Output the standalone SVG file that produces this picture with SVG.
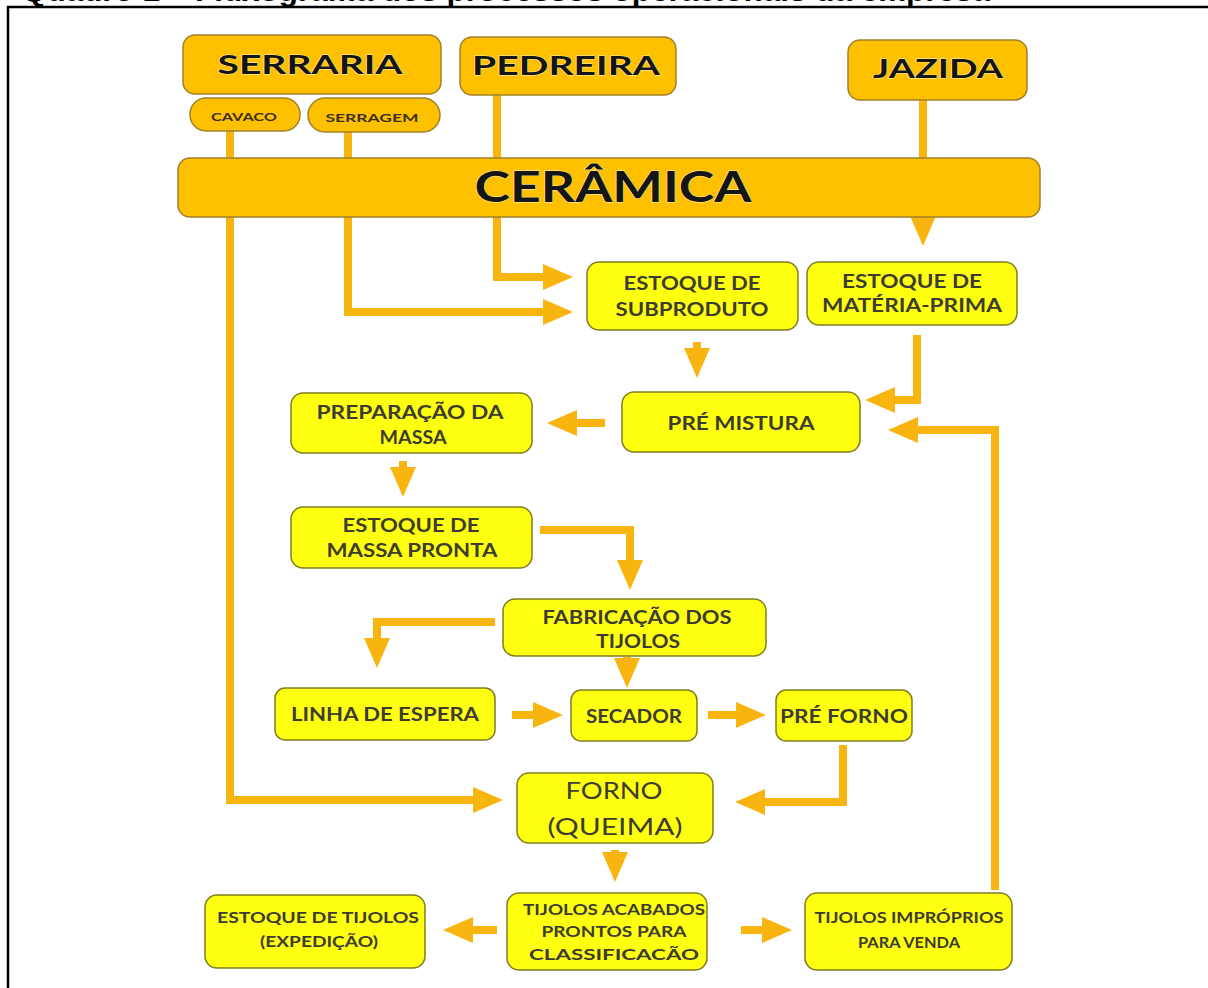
<svg xmlns="http://www.w3.org/2000/svg" width="1208" height="988" viewBox="0 0 1208 988">
<style>
.frame{fill:none;stroke:#000;stroke-width:2.5}
.title{font-family:"Liberation Sans",Arial,sans-serif;font-weight:bold;font-size:27px;fill:#000}
.org{fill:#FFC000;stroke:#A0802A;stroke-width:1.5}
.yel{fill:#FFFF10;stroke:#7E7E22;stroke-width:1.5}
.hd{font-family:Lato,"Open Sans",sans-serif;font-weight:bold;fill:#151515;stroke:#FFF2B8;stroke-width:0.8;paint-order:stroke;text-anchor:middle}
.t{font-family:Lato,"Open Sans",sans-serif;font-weight:bold;font-size:18px;fill:#3C3C30;text-anchor:middle}
.ts{font-family:Lato,"Open Sans",sans-serif;font-weight:bold;font-size:16px;fill:#3C3C30;text-anchor:middle}
.tr{font-family:Lato,"Open Sans",sans-serif;font-weight:normal;font-size:24px;fill:#3C3C30;text-anchor:middle}
.tx{font-family:Lato,"Open Sans",sans-serif;font-weight:bold;font-size:12px;fill:#3C3020;text-anchor:middle}
.c{fill:none;stroke:#F9B50F;stroke-width:8;stroke-linejoin:miter}
</style>
<defs>
<marker id="ah" markerUnits="userSpaceOnUse" markerWidth="30" markerHeight="28" viewBox="0 0 30 28" refX="19" refY="14" orient="auto">
<path d="M0,1 L30,14 L0,27 z" fill="#F9B50F"/>
</marker>
</defs>
<rect width="1208" height="988" fill="#fff"/>
<text class="title" x="22" y="1" textLength="968" lengthAdjust="spacingAndGlyphs">Quadro 1 – Fluxograma dos processos operacionais da empresa</text>
<path class="frame" d="M8,988 V7 H1210"/>
<g id="connectors">
<path class="c" d="M230,131 V800 H492" marker-end="url(#ah)"/>
<path class="c" d="M348,132 V312 H562" marker-end="url(#ah)"/>
<path class="c" d="M497,95 V277 H562" marker-end="url(#ah)"/>
<path class="c" d="M923,100 V235" marker-end="url(#ah)"/>
<path class="c" d="M697,342 V367" marker-end="url(#ah)"/>
<path class="c" d="M917,335 V400 H876" marker-end="url(#ah)"/>
<path class="c" d="M605,423 H558" marker-end="url(#ah)"/>
<path class="c" d="M403,461 V486" marker-end="url(#ah)"/>
<path class="c" d="M540,530 H630 V579" marker-end="url(#ah)"/>
<path class="c" d="M495,622 H377 V657" marker-end="url(#ah)"/>
<path class="c" d="M627,657 V677" marker-end="url(#ah)"/>
<path class="c" d="M512,715 H552" marker-end="url(#ah)"/>
<path class="c" d="M708,715 H755" marker-end="url(#ah)"/>
<path class="c" d="M843,745 V802 H746" marker-end="url(#ah)"/>
<path class="c" d="M615,850 V871" marker-end="url(#ah)"/>
<path class="c" d="M497,930 H454" marker-end="url(#ah)"/>
<path class="c" d="M741,930 H781" marker-end="url(#ah)"/>
<path class="c" d="M995,890 V430 H899" marker-end="url(#ah)"/>
</g>
<g id="serraria"><rect class="org" x="183" y="35" width="258" height="59" rx="12"/><text class="hd" x="310" y="74" font-size="27" textLength="185" lengthAdjust="spacingAndGlyphs">SERRARIA</text></g>
<g id="pedreira"><rect class="org" x="460" y="37" width="216" height="58" rx="12"/><text class="hd" x="566" y="75" font-size="27" textLength="188" lengthAdjust="spacingAndGlyphs">PEDREIRA</text></g>
<g id="jazida"><rect class="org" x="848" y="40" width="179" height="60" rx="12"/><text class="hd" x="938" y="78" font-size="27" textLength="130" lengthAdjust="spacingAndGlyphs">JAZIDA</text></g>
<g id="cavaco"><rect class="org" x="190" y="98" width="110" height="33" rx="16"/><text class="tx" x="244" y="121" textLength="66" lengthAdjust="spacingAndGlyphs">CAVACO</text></g>
<g id="serragem"><rect class="org" x="308" y="98" width="132" height="34" rx="17"/><text class="tx" x="372" y="122" textLength="93" lengthAdjust="spacingAndGlyphs">SERRAGEM</text></g>
<g id="ceramica"><rect class="org" x="178" y="158" width="862" height="59" rx="12"/><text class="hd" x="613" y="202" font-size="42" stroke-width="1.2" textLength="277" lengthAdjust="spacingAndGlyphs">CERÂMICA</text></g>
<g id="estoque-subproduto"><rect class="yel" x="587" y="262" width="211" height="68" rx="12"/><text class="t" x="692" y="289.5" textLength="137" lengthAdjust="spacingAndGlyphs">ESTOQUE DE</text><text class="t" x="692" y="315.5" textLength="153" lengthAdjust="spacingAndGlyphs">SUBPRODUTO</text></g>
<g id="estoque-materia-prima"><rect class="yel" x="807" y="262" width="210" height="63" rx="12"/><text class="t" x="912" y="287.5" textLength="140" lengthAdjust="spacingAndGlyphs">ESTOQUE DE</text><text class="t" x="912" y="311.5" textLength="180" lengthAdjust="spacingAndGlyphs">MATÉRIA-PRIMA</text></g>
<g id="pre-mistura"><rect class="yel" x="622" y="392" width="238" height="60" rx="12"/><text class="t" x="741" y="429.5" textLength="147" lengthAdjust="spacingAndGlyphs">PRÉ MISTURA</text></g>
<g id="preparacao-massa"><rect class="yel" x="291" y="393" width="241" height="60" rx="12"/><text class="t" x="410" y="418.5" textLength="187" lengthAdjust="spacingAndGlyphs">PREPARAÇÃO DA</text><text class="t" x="413" y="443.5" textLength="67" lengthAdjust="spacingAndGlyphs">MASSA</text></g>
<g id="estoque-massa-pronta"><rect class="yel" x="291" y="507" width="241" height="61" rx="12"/><text class="t" x="411" y="531.5" textLength="137" lengthAdjust="spacingAndGlyphs">ESTOQUE DE</text><text class="t" x="412" y="556.5" textLength="171" lengthAdjust="spacingAndGlyphs">MASSA PRONTA</text></g>
<g id="fabricacao-tijolos"><rect class="yel" x="503" y="599" width="263" height="57" rx="12"/><text class="t" x="637" y="623.5" textLength="189" lengthAdjust="spacingAndGlyphs">FABRICAÇÃO DOS</text><text class="t" x="638" y="647.5" textLength="84" lengthAdjust="spacingAndGlyphs">TIJOLOS</text></g>
<g id="linha-espera"><rect class="yel" x="275" y="688" width="220" height="52" rx="10"/><text class="t" x="385" y="720.5" textLength="188" lengthAdjust="spacingAndGlyphs">LINHA DE ESPERA</text></g>
<g id="secador"><rect class="yel" x="571" y="690" width="126" height="51" rx="10"/><text class="t" x="634" y="722.5" textLength="96" lengthAdjust="spacingAndGlyphs">SECADOR</text></g>
<g id="pre-forno"><rect class="yel" x="776" y="690" width="136" height="51" rx="10"/><text class="t" x="844" y="722.5" textLength="128" lengthAdjust="spacingAndGlyphs">PRÉ FORNO</text></g>
<g id="forno"><rect class="yel" x="517" y="773" width="196" height="70" rx="12"/><text class="tr" x="614" y="798.5" textLength="97" lengthAdjust="spacingAndGlyphs">FORNO</text><text class="tr" x="615" y="834.5" textLength="135" lengthAdjust="spacingAndGlyphs">(QUEIMA)</text></g>
<g id="estoque-tijolos"><rect class="yel" x="205" y="895" width="220" height="73" rx="12"/><text class="ts" x="318" y="923" textLength="202" lengthAdjust="spacingAndGlyphs">ESTOQUE DE TIJOLOS</text><text class="ts" x="319" y="947" textLength="118" lengthAdjust="spacingAndGlyphs">(EXPEDIÇÃO)</text></g>
<g id="tijolos-acabados"><rect class="yel" x="507" y="893" width="200" height="77" rx="12"/><text class="ts" x="614" y="915" textLength="182" lengthAdjust="spacingAndGlyphs">TIJOLOS ACABADOS</text><text class="ts" x="614" y="937" textLength="145" lengthAdjust="spacingAndGlyphs">PRONTOS PARA</text><text class="ts" x="614" y="960" textLength="170" lengthAdjust="spacingAndGlyphs">CLASSIFICACÃO</text></g>
<g id="tijolos-improprios"><rect class="yel" x="805" y="893" width="207" height="77" rx="12"/><text class="ts" x="909" y="923" textLength="189" lengthAdjust="spacingAndGlyphs">TIJOLOS IMPRÓPRIOS</text><text class="ts" x="909" y="948" textLength="102" lengthAdjust="spacingAndGlyphs">PARA VENDA</text></g>
</svg>
